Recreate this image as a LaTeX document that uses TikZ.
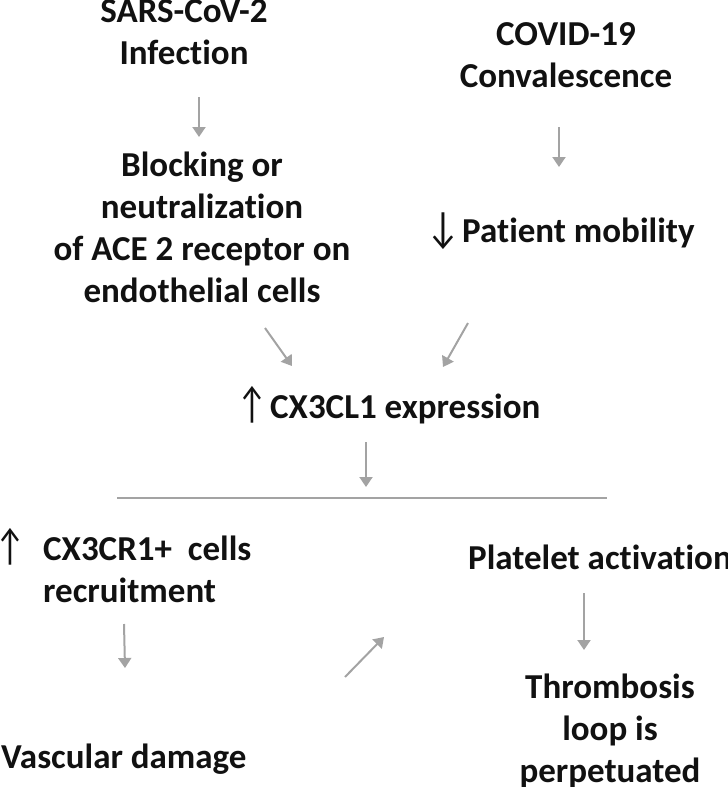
\documentclass[tikz,border=0pt]{standalone}
\usepackage{fontspec}
\usepackage{graphicx}
\setmainfont{Carlito}[Ligatures=NoCommon]
\newfontfamily\arrowfont{Carlito}
\usetikzlibrary{arrows.meta}
\definecolor{txt}{HTML}{111111}
\definecolor{arrgray}{HTML}{A3A3A3}
\newcommand{\uparr}{\scalebox{0.75}[1]{\arrowfont\mdseries\fontsize{44}{42}\selectfont\char"2191}}
\newcommand{\dnarr}{\scalebox{0.85}[1]{\arrowfont\mdseries\fontsize{44}{42}\selectfont\char"2193}}
\tikzset{
  lbl/.style={font=\fontsize{35}{42}\selectfont\bfseries, text=txt, align=center, inner sep=0pt, anchor=base},
  lblw/.style={font=\fontsize{35}{42}\selectfont\bfseries, text=txt, align=left, inner sep=0pt, anchor=base west},
  arr/.style={draw=arrgray, line width=2pt, -{Triangle[length=10pt,width=13pt]}},
  sep/.style={draw=arrgray, line width=1.5pt}
}
\begin{document}
\begin{tikzpicture}[x=1pt,y=-1pt]
\useasboundingbox (0,0) rectangle (728,787);
% nodes (anchor base = baseline of last line)
\node[lbl] (sars) at (184,64) {SARS-CoV-2\\Infection};
\node[lbl] (bloc) at (202,302) {Blocking or\\neutralization\\of ACE 2 receptor on\\endothelial cells};
\node[lbl] (covid) at (566,87) {COVID-19\\Convalescence};
\node[lblw] (mob) at (426,242) {\makebox[36pt][l]{\dnarr}Patient mobility};
\node[lblw] (cxcl) at (237,418) {\makebox[33pt][l]{\uparr}CX3CL1 expression};
\node[lblw] (cxcr) at (-5,602) {\makebox[48pt][l]{\uparr}CX3CR1+\ \ cells\\\hspace{48pt}recruitment};
\node[lblw] (vasc) at (1,768) {Vascular damage};
\node[lblw] (plat) at (468,569) {Platelet activation};
\node[lbl] (thromb) at (610,782) {Thrombosis\\loop is\\perpetuated};
% arrow end points
\coordinate (a1s) at (199,97);  \coordinate (a1e) at (199,137);
\coordinate (a2s) at (559,127); \coordinate (a2e) at (559,167);
\coordinate (a3s) at (265,328); \coordinate (a3e) at (292,366);
\coordinate (a4s) at (468,323); \coordinate (a4e) at (443,367);
\coordinate (a5s) at (366,442); \coordinate (a5e) at (366,487);
\coordinate (l1) at (117,498);  \coordinate (l2) at (607,498);
\coordinate (a6s) at (124,624); \coordinate (a6e) at (125,668);
\coordinate (a7s) at (345,677); \coordinate (a7e) at (384,637);
\coordinate (a8s) at (584,593); \coordinate (a8e) at (584,650);
% connectors
\draw[arr] (a1s) -- (a1e);
\draw[arr] (a2s) -- (a2e);
\draw[arr] (a3s) -- (a3e);
\draw[arr] (a4s) -- (a4e);
\draw[arr] (a5s) -- (a5e);
\draw[sep] (l1) -- (l2);
\draw[arr] (a6s) -- (a6e);
\draw[arr] (a7s) -- (a7e);
\draw[arr] (a8s) -- (a8e);
\end{tikzpicture}
\end{document}
